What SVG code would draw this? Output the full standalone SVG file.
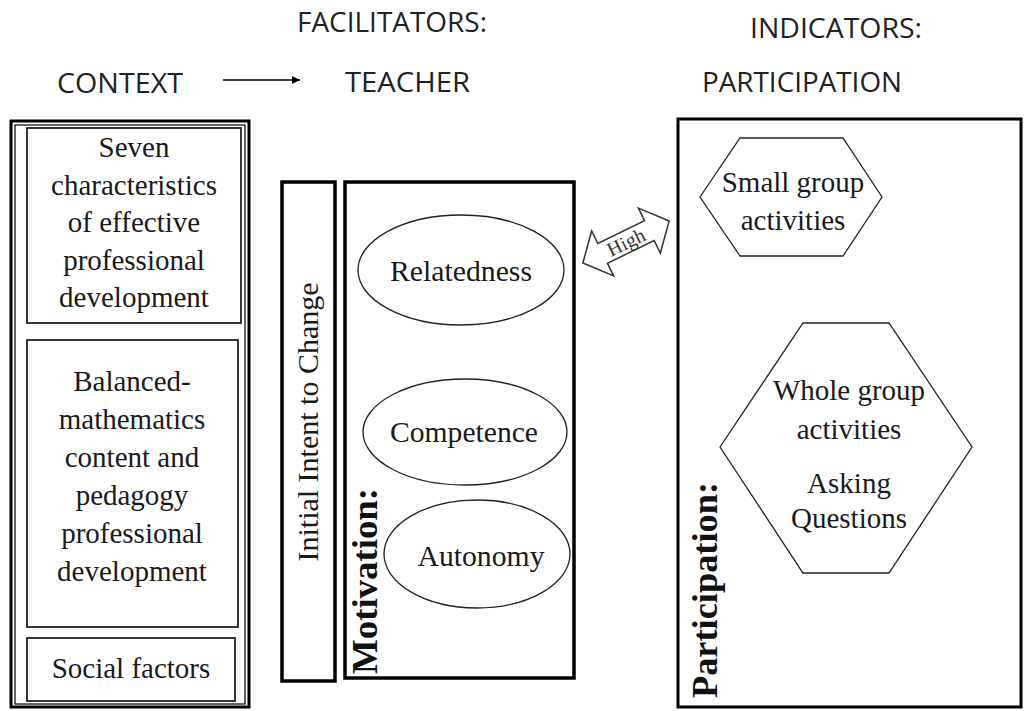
<svg xmlns="http://www.w3.org/2000/svg" width="1024" height="711" viewBox="0 0 1024 711">
  <defs>
    <style>
      .hdr { font-family: "Open Sans", "Liberation Sans", sans-serif; font-size: 28px; fill: #222; }
      .t { font-family: "Liberation Serif", "Times New Roman", serif; font-size: 29px; fill: #1a1a1a; text-anchor: middle; }
      .tb { font-family: "Liberation Serif", "Times New Roman", serif; font-size: 36px; font-weight: bold; fill: #111; }
      .thick { fill: #fff; stroke: #000; stroke-width: 3.5; }
      .box { fill: #fff; stroke: #222; stroke-width: 1.8; }
      .thin { fill: #fff; stroke: #222; stroke-width: 1.3; }
    </style>
    <marker id="arrowhead" viewBox="0 0 10 10" refX="10" refY="5" markerWidth="8" markerHeight="8" markerUnits="userSpaceOnUse" orient="auto">
      <path d="M0,0 L10,5 L0,10 z" fill="#000"/>
    </marker>
  </defs>
  <rect width="1024" height="711" fill="#fff"/>

  <!-- Column headings -->
  <g id="headings">
    <text class="hdr" x="297" y="32" textLength="190" lengthAdjust="spacingAndGlyphs">FACILITATORS:</text>
    <text class="hdr" x="57" y="93" textLength="126" lengthAdjust="spacingAndGlyphs">CONTEXT</text>
    <text class="hdr" x="345" y="92" textLength="125" lengthAdjust="spacingAndGlyphs">TEACHER</text>
    <text class="hdr" x="750" y="38" textLength="172" lengthAdjust="spacingAndGlyphs">INDICATORS:</text>
    <text class="hdr" x="702" y="92" textLength="200" lengthAdjust="spacingAndGlyphs">PARTICIPATION</text>
  </g>

  <!-- Connectors -->
  <g id="connectors">
    <line x1="223" y1="80" x2="300" y2="80" stroke="#000" stroke-width="1.6" marker-end="url(#arrowhead)"/>
    <g id="high-arrow" transform="translate(626,242) rotate(-26)">
      <polygon points="-48,0 -26,-25 -26,-11 26,-11 26,-25 48,0 26,25 26,11 -26,11 -26,25" fill="#fff" stroke="#333" stroke-width="1.5" stroke-linejoin="miter"/>
      <text x="0" y="7" font-family="Liberation Serif, serif" font-size="20" fill="#333" text-anchor="middle">High</text>
    </g>
  </g>

  <!-- Context column -->
  <g id="context">
    <rect x="11" y="121" width="238" height="586" fill="#fff" stroke="#000" stroke-width="3"/>
    <rect x="15" y="125" width="230" height="579" fill="none" stroke="#000" stroke-width="1.2"/>
    <g id="seven-characteristics">
      <rect class="box" x="27" y="128" width="214" height="195"/>
      <text class="t" x="134" y="157">Seven</text>
      <text class="t" x="134" y="195">characteristics</text>
      <text class="t" x="134" y="232">of effective</text>
      <text class="t" x="134" y="270">professional</text>
      <text class="t" x="134" y="307">development</text>
    </g>
    <g id="balanced-mathematics">
      <rect class="box" x="27" y="340" width="211" height="287"/>
      <text class="t" x="132" y="391">Balanced-</text>
      <text class="t" x="132" y="429">mathematics</text>
      <text class="t" x="132" y="467">content and</text>
      <text class="t" x="132" y="505">pedagogy</text>
      <text class="t" x="132" y="543">professional</text>
      <text class="t" x="132" y="581">development</text>
    </g>
    <g id="social-factors">
      <rect class="box" x="27" y="638" width="208" height="63"/>
      <text class="t" x="131" y="678">Social factors</text>
    </g>
  </g>

  <!-- Teacher column -->
  <g id="initial-intent">
    <rect class="thick" x="282" y="182" width="53" height="499"/>
    <text class="t" transform="translate(318,422) rotate(-90)" x="0" y="0" textLength="279" lengthAdjust="spacingAndGlyphs">Initial Intent to Change</text>
  </g>
  <g id="motivation">
    <rect class="thick" x="345" y="182" width="229" height="496"/>
    <text class="tb" transform="translate(377,674) rotate(-90)" x="0" y="0" textLength="186" lengthAdjust="spacingAndGlyphs">Motivation:</text>
  </g>
  <g id="relatedness">
    <ellipse class="thin" cx="461" cy="270" rx="103" ry="55"/>
    <text class="t" x="461" y="281" textLength="142" lengthAdjust="spacingAndGlyphs">Relatedness</text>
  </g>
  <g id="competence">
    <ellipse class="thin" cx="465" cy="432" rx="102" ry="53"/>
    <text class="t" x="464" y="442" textLength="148" lengthAdjust="spacingAndGlyphs">Competence</text>
  </g>
  <g id="autonomy">
    <ellipse class="thin" cx="477" cy="554" rx="93" ry="54"/>
    <text class="t" x="481" y="566" textLength="127" lengthAdjust="spacingAndGlyphs">Autonomy</text>
  </g>

  <!-- Participation column -->
  <g id="participation">
    <rect x="678" y="119" width="343" height="588" fill="#fff" stroke="#000" stroke-width="3"/>
    <text class="tb" transform="translate(717,698) rotate(-90)" x="0" y="0" textLength="216" lengthAdjust="spacingAndGlyphs">Participation:</text>
  </g>
  <g id="small-group">
    <polygon class="thin" points="700,197 740,138 843,138 882,197 843,256 740,256"/>
    <text class="t" x="793" y="192">Small group</text>
    <text class="t" x="793" y="230">activities</text>
  </g>
  <g id="whole-group">
    <polygon class="thin" points="720,447 803,323 889,323 972,447 889,573 803,573"/>
    <text class="t" x="849" y="400">Whole group</text>
    <text class="t" x="849" y="439">activities</text>
    <text class="t" x="849" y="493">Asking</text>
    <text class="t" x="849" y="528">Questions</text>
  </g>
</svg>
